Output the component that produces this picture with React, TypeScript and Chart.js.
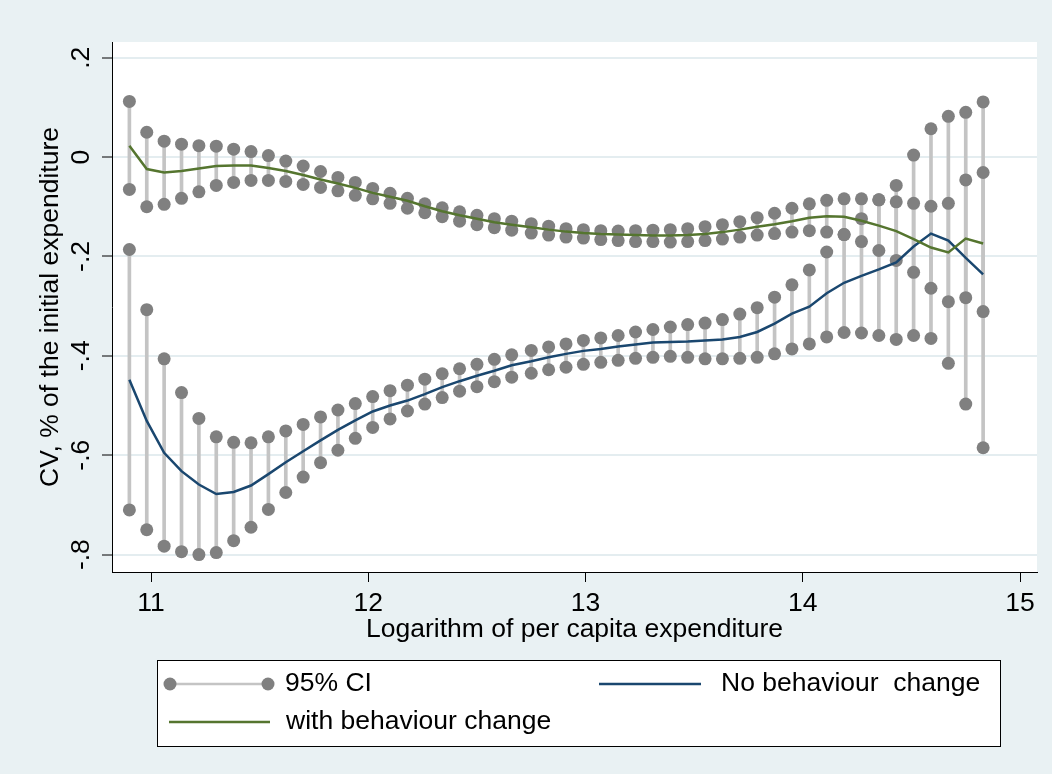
import React, { useEffect, useRef } from "react";
import { Chart, registerables } from "chart.js";

Chart.register(...registerables);

// ---------- data ----------
const xValues = [
  10.9, 10.98, 11.06, 11.14, 11.22, 11.3, 11.38, 11.46, 11.54, 11.62,
  11.7, 11.78, 11.86, 11.94, 12.02, 12.1, 12.18, 12.26, 12.34, 12.42,
  12.5, 12.58, 12.66, 12.75, 12.83, 12.91, 12.99, 13.07, 13.15, 13.23,
  13.31, 13.39, 13.47, 13.55, 13.63, 13.71, 13.79, 13.87, 13.95, 14.03,
  14.11, 14.19, 14.27, 14.35, 14.43, 14.51, 14.59, 14.67, 14.75, 14.83,
];

// CI around "with behaviour change"
const withCiHigh = [
  0.112, 0.05, 0.032, 0.026, 0.023, 0.022, 0.016, 0.011, 0.003, -0.008,
  -0.018, -0.029, -0.041, -0.051, -0.063, -0.073, -0.083, -0.094, -0.102, -0.11,
  -0.117, -0.124, -0.129, -0.134, -0.139, -0.144, -0.146, -0.148, -0.149, -0.148,
  -0.147, -0.146, -0.144, -0.14, -0.136, -0.13, -0.122, -0.113, -0.103, -0.094,
  -0.087, -0.084, -0.084, -0.086, -0.09, -0.093, -0.099, -0.093, -0.046, -0.031,
];
const withCiLow = [
  -0.065, -0.1, -0.095, -0.083, -0.07, -0.057, -0.051, -0.047, -0.047, -0.049,
  -0.055, -0.061, -0.068, -0.077, -0.084, -0.093, -0.103, -0.112, -0.12, -0.129,
  -0.136, -0.142, -0.147, -0.153, -0.157, -0.161, -0.163, -0.166, -0.168, -0.17,
  -0.17, -0.171, -0.17, -0.168, -0.165, -0.161, -0.157, -0.154, -0.151, -0.148,
  -0.151, -0.156, -0.17, -0.188, -0.208, -0.232, -0.264, -0.291, -0.283, -0.311,
];

// CI around "No behaviour change"
const noCiHigh = [
  -0.186, -0.307, -0.406, -0.474, -0.526, -0.563, -0.574, -0.575, -0.563, -0.551,
  -0.538, -0.523, -0.509, -0.496, -0.482, -0.47, -0.459, -0.447, -0.436, -0.426,
  -0.417, -0.407, -0.398, -0.389, -0.382, -0.376, -0.369, -0.364, -0.359, -0.352,
  -0.347, -0.342, -0.337, -0.334, -0.327, -0.316, -0.303, -0.282, -0.257, -0.227,
  -0.191, -0.156, -0.124, -0.086, -0.057, 0.004, 0.057, 0.082, 0.09, 0.111,
];
const noCiLow = [
  -0.71, -0.75, -0.783, -0.794, -0.8, -0.796, -0.772, -0.745, -0.709, -0.675,
  -0.644, -0.615, -0.59, -0.566, -0.544, -0.527, -0.511, -0.497, -0.484, -0.471,
  -0.462, -0.452, -0.443, -0.435, -0.428, -0.423, -0.417, -0.413, -0.409, -0.405,
  -0.403, -0.401, -0.403, -0.406, -0.406, -0.405, -0.403, -0.396, -0.386, -0.376,
  -0.362, -0.353, -0.354, -0.359, -0.367, -0.359, -0.365, -0.415, -0.497, -0.585,
];

const noBehaviour = [
  -0.448, -0.531, -0.595, -0.632, -0.659, -0.678, -0.674, -0.661, -0.638, -0.614,
  -0.592, -0.57, -0.549, -0.53, -0.512, -0.5, -0.49, -0.477, -0.463, -0.451,
  -0.44, -0.43, -0.419, -0.411, -0.403, -0.396, -0.39, -0.386, -0.381, -0.377,
  -0.373, -0.372, -0.371, -0.369, -0.367, -0.362, -0.352, -0.335, -0.315, -0.301,
  -0.274, -0.253, -0.239, -0.226, -0.212, -0.18, -0.154, -0.168, -0.203, -0.236,
];
const withBehaviour = [
  0.023, -0.024, -0.031, -0.028, -0.023, -0.018, -0.017, -0.017, -0.022, -0.028,
  -0.036, -0.045, -0.053, -0.062, -0.072, -0.08, -0.088, -0.099, -0.109, -0.117,
  -0.124, -0.131, -0.136, -0.141, -0.146, -0.15, -0.153, -0.155, -0.156, -0.157,
  -0.158, -0.158, -0.157, -0.155, -0.151, -0.146, -0.14, -0.135, -0.129, -0.122,
  -0.119, -0.12, -0.128, -0.138, -0.149, -0.165, -0.182, -0.192, -0.164, -0.174,
];

const xTicks = [11, 12, 13, 14, 15];
const yTicks = [-0.8, -0.6, -0.4, -0.2, 0, 0.2];
const yTickLabels = ["-.8", "-.6", "-.4", "-.2", "0", ".2"];
const xTitle = "Logarithm of per capita expenditure";
const yTitle = "CV, % of the initial expenditure";
const legendLabels = ["95% CI", "No behaviour  change", "with behaviour change"];

// ---------- styles ----------
const FONT = "'Liberation Sans', Arial, sans-serif";
const FS = 26.5;
const BG = "#e9f1f3";
const NAVY = "#1a476f";
const GREEN = "#55752f";
const DOT = "#808080";
const CAP = "#c4c4c4";

const pts = (ys: number[]) => xValues.map((x, i) => ({ x, y: ys[i] }));
const bars = (lo: number[], hi: number[]) =>
  xValues.map((x, i) => ({ x, y: [lo[i], hi[i]] }));

const bgPlugin = {
  id: "bgPlugin",
  beforeDraw(chart: any) {
    const { ctx, chartArea } = chart;
    ctx.save();
    ctx.fillStyle = BG;
    ctx.fillRect(0, 0, chart.width, chart.height);
    ctx.fillStyle = "#ffffff";
    ctx.fillRect(chartArea.left, chartArea.top, chartArea.right - chartArea.left, chartArea.bottom - chartArea.top);
    ctx.restore();
  },
};

const legendPlugin = {
  id: "customLegend",
  afterDraw(chart: any) {
    const ctx = chart.ctx;
    ctx.save();
    const bx = 157, by = 660, bw = 843, bh = 86;
    ctx.fillStyle = "#ffffff";
    ctx.fillRect(bx, by, bw, bh);
    ctx.strokeStyle = "#000";
    ctx.lineWidth = 1;
    ctx.strokeRect(bx + 0.5, by + 0.5, bw, bh);

    const r1 = 684, r2 = 722;
    ctx.strokeStyle = CAP;
    ctx.lineWidth = 2.5;
    ctx.beginPath();
    ctx.moveTo(170, r1);
    ctx.lineTo(268, r1);
    ctx.stroke();
    ctx.fillStyle = DOT;
    [170, 268].forEach((cx) => {
      ctx.beginPath();
      ctx.arc(cx, r1, 6.5, 0, Math.PI * 2);
      ctx.fill();
    });
    ctx.strokeStyle = NAVY;
    ctx.lineWidth = 2.5;
    ctx.beginPath();
    ctx.moveTo(599, r1);
    ctx.lineTo(701, r1);
    ctx.stroke();
    ctx.strokeStyle = GREEN;
    ctx.beginPath();
    ctx.moveTo(169, r2);
    ctx.lineTo(270, r2);
    ctx.stroke();

    ctx.fillStyle = "#000";
    ctx.font = `${FS}px ${FONT}`;
    ctx.textBaseline = "middle";
    ctx.textAlign = "left";
    ctx.fillText(legendLabels[0], 285, r1);
    ctx.fillText(legendLabels[1], 721, r1);
    ctx.fillText(legendLabels[2], 286, r2);
    ctx.restore();
  },
};

export default function App() {
  const ref = useRef<HTMLCanvasElement>(null);

  useEffect(() => {
    if (!ref.current) return;
    const dotDs = (ys: number[]) => ({
      type: "scatter" as const,
      data: pts(ys),
      pointRadius: 6.5,
      pointHoverRadius: 6.5,
      backgroundColor: DOT,
      borderWidth: 0,
      showLine: false,
      order: 2,
    });
    const chart = new Chart(ref.current, {
      type: "scatter",
      data: {
        datasets: [
          {
            type: "line",
            label: legendLabels[2],
            data: pts(withBehaviour),
            borderColor: GREEN,
            borderWidth: 2.5,
            pointRadius: 0,
            tension: 0,
            fill: false,
            order: 0,
          } as any,
          {
            type: "line",
            label: legendLabels[1],
            data: pts(noBehaviour),
            borderColor: NAVY,
            borderWidth: 2.5,
            pointRadius: 0,
            tension: 0,
            fill: false,
            order: 1,
          } as any,
          dotDs(withCiHigh) as any,
          dotDs(withCiLow) as any,
          dotDs(noCiHigh) as any,
          dotDs(noCiLow) as any,
          {
            type: "bar",
            label: legendLabels[0],
            data: bars(withCiLow, withCiHigh),
            backgroundColor: CAP,
            borderWidth: 0,
            barThickness: 3,
            grouped: false,
            order: 3,
          } as any,
          {
            type: "bar",
            data: bars(noCiLow, noCiHigh),
            backgroundColor: CAP,
            borderWidth: 0,
            barThickness: 3,
            grouped: false,
            order: 3,
          } as any,
        ],
      },
      options: {
        animation: false,
        responsive: false,
        maintainAspectRatio: false,
        layout: { padding: { left: 0, top: 42, right: 15, bottom: 122 } },
        plugins: {
          legend: { display: false },
          tooltip: { enabled: false },
        },
        scales: {
          x: {
            type: "linear",
            min: 10.82,
            max: 15.078,
            offset: false,
            afterBuildTicks: (s: any) => {
              s.ticks = xTicks.map((v) => ({ value: v }));
            },
            afterFit: (s: any) => {
              s.height = 80;
            },
            grid: {
              offset: false,
              drawOnChartArea: false,
              drawTicks: true,
              tickLength: 10,
              tickColor: "#000",
              tickWidth: 1,
            },
            border: { display: true, color: "#000", width: 1 },
            ticks: {
              color: "#000",
              font: { family: FONT, size: FS },
              padding: 6,
              autoSkip: false,
              maxRotation: 0,
              minRotation: 0,
              callback: (v: any) => String(v),
            },
            title: {
              display: true,
              text: xTitle,
              color: "#000",
              font: { family: FONT, size: FS },
              padding: { top: 0, bottom: 6 },
            },
          },
          y: {
            type: "linear",
            min: -0.835,
            max: 0.2316,
            afterBuildTicks: (s: any) => {
              s.ticks = yTicks.map((v) => ({ value: v }));
            },
            afterFit: (s: any) => {
              s.width = 112;
            },
            grid: {
              offset: false,
              color: "#e4edf0",
              lineWidth: 2,
              drawTicks: true,
              tickLength: 10,
              tickColor: "#000",
              tickWidth: 1,
            },
            border: { display: true, color: "#000", width: 1 },
            ticks: {
              color: "#000",
              font: { family: FONT, size: FS },
              padding: 5,
              autoSkip: false,
              minRotation: 90,
              maxRotation: 90,
              crossAlign: "center",
              callback: (v: any) => {
                const i = yTicks.indexOf(Number(v));
                return i >= 0 ? yTickLabels[i] : "";
              },
            },
            title: {
              display: true,
              text: yTitle,
              color: "#000",
              font: { family: FONT, size: FS },
              padding: { top: 35, bottom: 0 },
            },
          },
        },
      } as any,
      plugins: [bgPlugin, legendPlugin],
    });
    return () => chart.destroy();
  }, []);

  return (
    <div
      style={{
        position: "absolute",
        left: 0,
        top: 0,
        width: 1052,
        height: 774,
        background: BG,
      }}
    >
      <canvas ref={ref} width={1052} height={774} style={{ display: "block", width: 1052, height: 774 }} />
    </div>
  );
}
